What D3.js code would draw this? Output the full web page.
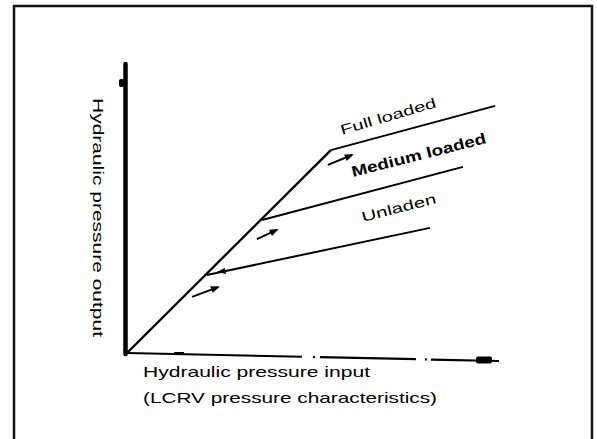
<!DOCTYPE html>
<html><head><meta charset="utf-8">
<script src="https://cdn.jsdelivr.net/npm/d3@7"></script>
<style>html,body{margin:0;padding:0;background:#fff;}svg{display:block;}</style>
</head><body>
<script>
// Series: [input, output] points (arbitrary units)
const mainLine = [[0,0],[55.1,70.2]];
const fullLoaded = [[55.1,70.2],[99.5,85.5]];
const mediumLoaded = [[36.5,46.0],[90.8,64.4]];
const unladen = [[21.6,27.0],[81.9,43.3]];
const seriesNames = ["Full loaded","Medium loaded","Unladen"];
const arrowsAlong = [[[54.3,65.1],[60.8,68.5]],[[35.1,39.4],[40.5,42.6]],[[17.6,19.4],[24.6,22.8]]];
const xLabel = ["Hydraulic pressure input","(LCRV pressure characteristics)"];
const yLabel = "Hydraulic pressure output";

const W=597,H=439;
const svg=d3.select("body").append("svg").attr("width",W).attr("height",H);
svg.append("rect").attr("x",14).attr("y",6).attr("width",578).attr("height",460)
  .attr("fill","none").attr("stroke","#111").attr("stroke-width",2.5);

const x=d3.scaleLinear().domain([0,100]).range([127,497]);
const y=d3.scaleLinear().domain([0,100]).range([353,64]);
const line=d3.line().x(d=>x(d[0])).y(d=>y(d[1]));

// y axis
svg.append("line").attr("x1",125.5).attr("x2",125.5).attr("y1",y(0)+1).attr("y2",y(100))
  .attr("stroke","#000").attr("stroke-width",4.5).attr("stroke-linecap","round");
svg.append("rect").attr("x",119).attr("y",79).attr("width",5).attr("height",8).attr("rx",2).attr("fill","#000");

// x axis (dashed, slightly skewed like the scan)
svg.append("line").attr("x1",x(0)).attr("y1",y(0)).attr("x2",x(100)+2).attr("y2",y(0)+8)
  .attr("stroke","#000").attr("stroke-width",2.2)
  .attr("stroke-dasharray","175,11,2,5,96,9,2,4,90");
svg.append("rect").attr("x",476).attr("y",356.5).attr("width",16).attr("height",7).attr("rx",2).attr("fill","#000");
svg.append("rect").attr("x",174).attr("y",352).attr("width",10).attr("height",3).attr("fill","#000");

const g=svg.append("g").attr("fill","none").attr("stroke","#000").attr("stroke-width",2);
g.append("path").attr("d",line(mainLine)).attr("stroke-width",2.3);
[fullLoaded,mediumLoaded,unladen].forEach(s=>g.append("path").attr("d",line(s)));

// small arrows beside the knee points
arrowsAlong.forEach(a=>{
  g.append("path").attr("d",line(a)).attr("stroke-width",2);
  const [p0,p1]=a;
  const X1=x(p1[0]),Y1=y(p1[1]),X0=x(p0[0]),Y0=y(p0[1]);
  const ang=Math.atan2(Y1-Y0,X1-X0);
  const L=7,wd=3.5;
  const pts=[[X1+2*Math.cos(ang),Y1+2*Math.sin(ang)],
    [X1-L*Math.cos(ang)-wd*Math.sin(ang),Y1-L*Math.sin(ang)+wd*Math.cos(ang)],
    [X1-L*Math.cos(ang)+wd*Math.sin(ang),Y1-L*Math.sin(ang)-wd*Math.cos(ang)]];
  svg.append("polygon").attr("points",pts.map(p=>p.join(",")).join(" ")).attr("fill","#000");
});
// arrowhead on unladen line near knee
{
  const X=x(unladen[0][0])+18,Yk=y(unladen[0][1])-4;
  svg.append("polygon").attr("points",`${X-8},${Yk+1} ${X},${Yk-3} ${X+1},${Yk+3}`).attr("fill","#000");
}

// series labels
const labelPos=[[342,135,437,107],[353,177,487,143],[363,222,437,203]];
seriesNames.forEach((t,i)=>{
  const [x0,y0,x1,y1]=labelPos[i];
  const ang=Math.atan2(y1-y0,x1-x0)*180/Math.PI;
  const len=Math.hypot(x1-x0,y1-y0);
  svg.append("text").attr("transform",`translate(${x0},${y0}) rotate(${ang})`)
    .attr("font-family","Liberation Sans, Arial, sans-serif").attr("font-size",i===1?15:14)
    .attr("font-weight",i===1?"bold":"normal")
    .attr("textLength",len).attr("lengthAdjust","spacingAndGlyphs").text(t);
});

// axis titles
svg.append("text").attr("x",143).attr("y",377).attr("font-family","Liberation Sans, Arial, sans-serif")
  .attr("font-size",15).attr("textLength",227).attr("lengthAdjust","spacingAndGlyphs").text(xLabel[0]);
svg.append("text").attr("x",143).attr("y",403).attr("font-family","Liberation Sans, Arial, sans-serif")
  .attr("font-size",15).attr("textLength",294).attr("lengthAdjust","spacingAndGlyphs").text(xLabel[1]);
svg.append("text").attr("transform","translate(93,98) rotate(90)").attr("font-family","Liberation Sans, Arial, sans-serif")
  .attr("font-size",15).attr("textLength",239).attr("lengthAdjust","spacingAndGlyphs").text(yLabel);
</script>
</body></html>
